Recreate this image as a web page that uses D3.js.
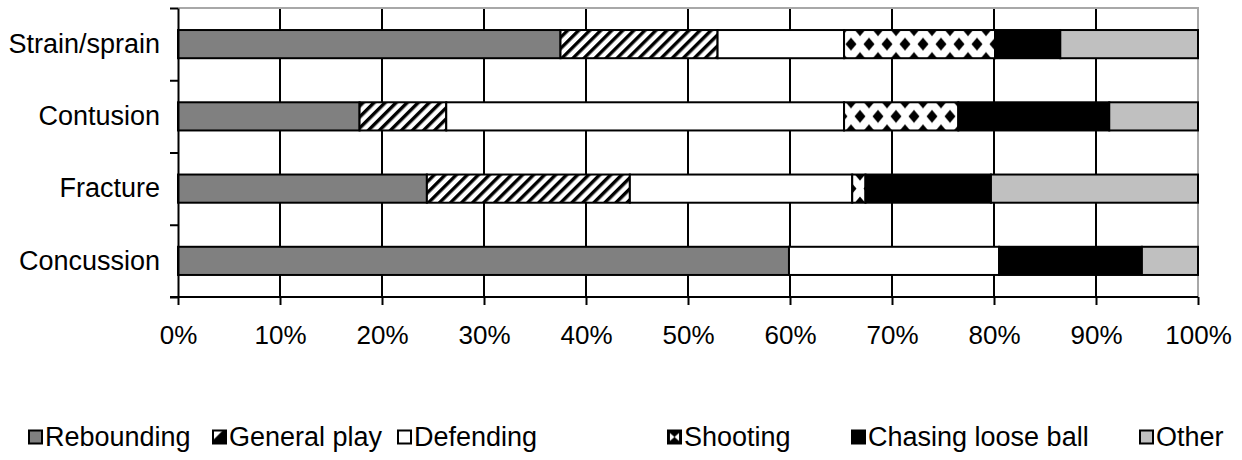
<!DOCTYPE html>
<html>
<head>
<meta charset="utf-8">
<script src="https://cdn.jsdelivr.net/npm/d3@7"></script>
<style>
  body { margin: 0; background: #fff; }
  text { font-family: "Liberation Sans", Arial, sans-serif; }
</style>
</head>
<body>
<div id="chart"></div>
<script>
const width = 1242;
const height = 460;

// data (percent of injuries per activity)
const categories = ["Strain/sprain", "Contusion", "Fracture", "Concussion"];
const activities = ["Rebounding", "General play", "Defending", "Shooting", "Chasing loose ball", "Other"];
const rebounding = [37.5, 17.8, 24.4, 59.9];
const generalPlay = [15.4, 8.5, 19.9, 0];
const defending = [12.4, 39.0, 21.8, 20.6];
const shooting = [14.8, 11.2, 1.3, 0];
const chasing = [6.4, 14.8, 12.3, 14.0];
const other = [13.5, 8.7, 20.3, 5.5];
const xTicks = [0, 0.1, 0.2, 0.3, 0.4, 0.5, 0.6, 0.7, 0.8, 0.9, 1];

const fills = ["#808080", "url(#hatch)", "#ffffff", "url(#diamond)", "#000000", "#c0c0c0"];
const legendFills = ["#808080", "url(#hatch-key)", "#ffffff", "url(#diamond-key)", "#000000", "#c0c0c0"];
const legendX = [29, 213, 398, 668, 852, 1140];

const margin = { top: 8, left: 178 };
const plotW = 1020;
const plotBottom = 297;
const font = "'Liberation Sans', Arial, sans-serif";

const table = categories.map((c, i) => {
  const row = { category: c };
  const vals = [rebounding[i], generalPlay[i], defending[i], shooting[i], chasing[i], other[i]];
  const total = d3.sum(vals);
  activities.forEach((a, j) => (row[a] = vals[j] / total));
  return row;
});

const series = d3.stack().keys(activities)(table);

const x = d3
  .scaleLinear()
  .domain([0, 1])
  .range([margin.left, margin.left + plotW]);

const y = d3
  .scaleBand()
  .domain(categories)
  .range([margin.top, plotBottom])
  .paddingInner(0.61)
  .paddingOuter(0.305);

const yEdge = d3.scaleLinear().domain([0, categories.length]).range([margin.top, plotBottom]);

const svg = d3
  .select("#chart")
  .append("svg")
  .attr("width", width)
  .attr("height", height);

const defs = svg.append("defs");

// diagonal hatch "/"
const hatch = defs
  .append("pattern")
  .attr("id", "hatch")
  .attr("patternUnits", "userSpaceOnUse")
  .attr("width", 7.8)
  .attr("height", 7.8)
  .attr("patternTransform", "rotate(45)");
hatch.append("rect").attr("width", 7.8).attr("height", 7.8).attr("fill", "#fff");
hatch.append("rect").attr("width", 3.4).attr("height", 7.8).attr("fill", "#000");

// diamonds: rows every fifth of a band step so every bar lines up the same way
const rowGap = y.step() / 5;
const tileW = 18;
const dia = defs
  .append("pattern")
  .attr("id", "diamond")
  .attr("patternUnits", "userSpaceOnUse")
  .attr("width", tileW)
  .attr("height", rowGap * 2)
  .attr("x", 14)
  .attr("y", y(categories[0]) + y.bandwidth() / 2 - rowGap);
dia.append("rect").attr("width", tileW).attr("height", rowGap * 2).attr("fill", "#fff");
[[tileW / 2, rowGap], [0, 0], [tileW, 0], [0, rowGap * 2], [tileW, rowGap * 2]].forEach(([cx, cy]) => {
  dia
    .append("path")
    .attr("d", `M${cx - 5.5},${cy}L${cx},${cy - 6.5}L${cx + 5.5},${cy}L${cx},${cy + 6.5}Z`)
    .attr("fill", "#000");
});

// legend keys
const hk = defs
  .append("pattern")
  .attr("id", "hatch-key")
  .attr("patternContentUnits", "objectBoundingBox")
  .attr("width", 1)
  .attr("height", 1);
hk.append("rect").attr("width", 1).attr("height", 1).attr("fill", "#000");
hk.append("path").attr("d", "M0,0L0.75,0L0,0.75Z").attr("fill", "#fff");

const dk = defs
  .append("pattern")
  .attr("id", "diamond-key")
  .attr("patternContentUnits", "objectBoundingBox")
  .attr("width", 1)
  .attr("height", 1);
dk.append("rect").attr("width", 1).attr("height", 1).attr("fill", "#000");
dk.append("path").attr("d", "M0.15,0.2L0.5,0.5L0.15,0.8Z").attr("fill", "#fff");
dk.append("path").attr("d", "M0.85,0.2L0.5,0.5L0.85,0.8Z").attr("fill", "#fff");

// gridlines
svg
  .append("g")
  .selectAll("line")
  .data(xTicks.slice(1, -1))
  .join("line")
  .attr("x1", (d) => x(d))
  .attr("x2", (d) => x(d))
  .attr("y1", margin.top)
  .attr("y2", plotBottom)
  .attr("stroke", "#000")
  .attr("stroke-width", 2);

// plot border (top / right)
svg
  .append("path")
  .attr("d", `M${x(0)},${margin.top}H${x(1)}V${plotBottom}`)
  .attr("fill", "none")
  .attr("stroke", "#a8a8a8")
  .attr("stroke-width", 2);

// bars
svg
  .append("g")
  .selectAll("g")
  .data(series)
  .join("g")
  .attr("fill", (d, i) => fills[i])
  .selectAll("rect")
  .data((d) => d.filter((p) => p[1] - p[0] > 0))
  .join("rect")
  .attr("x", (d) => x(d[0]))
  .attr("width", (d) => x(d[1]) - x(d[0]))
  .attr("y", (d) => y(d.data.category))
  .attr("height", y.bandwidth())
  .attr("stroke", "#000")
  .attr("stroke-width", 2);

// x axis
const xAxis = svg
  .append("g")
  .attr("transform", `translate(0,${plotBottom})`)
  .call(
    d3
      .axisBottom(x)
      .tickValues(xTicks)
      .tickFormat(d3.format(".0%"))
      .tickSize(8)
      .tickSizeOuter(0)
      .tickPadding(21)
  );
xAxis.select(".domain").attr("d", `M${x(0) - 8},0H${x(1)}`);
xAxis.selectAll("line, path").attr("stroke", "#000").attr("stroke-width", 2);
xAxis.selectAll("text").attr("fill", "#000").style("font-size", "26px").style("font-family", font);

// y axis: ticks at band edges
const yAxis = svg
  .append("g")
  .attr("transform", `translate(${margin.left},0)`)
  .call(
    d3
      .axisLeft(yEdge)
      .tickValues(d3.range(categories.length + 1))
      .tickFormat("")
      .tickSize(8)
      .tickSizeOuter(0)
  );
yAxis.selectAll("line, path").attr("stroke", "#000").attr("stroke-width", 2);

// category labels
const yLab = svg
  .append("g")
  .attr("transform", `translate(${margin.left},0)`)
  .call(d3.axisLeft(y).tickSize(0).tickPadding(18));
yLab.select(".domain").remove();
yLab.selectAll("text").attr("fill", "#000").style("font-size", "27px").style("font-family", font);

// legend
const legend = svg
  .append("g")
  .selectAll("g")
  .data(activities)
  .join("g")
  .attr("transform", (d, i) => `translate(${legendX[i]},437)`);

legend
  .append("rect")
  .attr("x", 0)
  .attr("y", -6.5)
  .attr("width", 13)
  .attr("height", 13)
  .attr("fill", (d, i) => legendFills[i])
  .attr("stroke", "#000")
  .attr("stroke-width", 2);

legend
  .append("text")
  .attr("x", 16)
  .attr("y", 0)
  .attr("dy", "0.35em")
  .style("font-size", "27px")
  .style("font-family", font)
  .attr("fill", "#000")
  .text((d) => d);
</script>
</body>
</html>
